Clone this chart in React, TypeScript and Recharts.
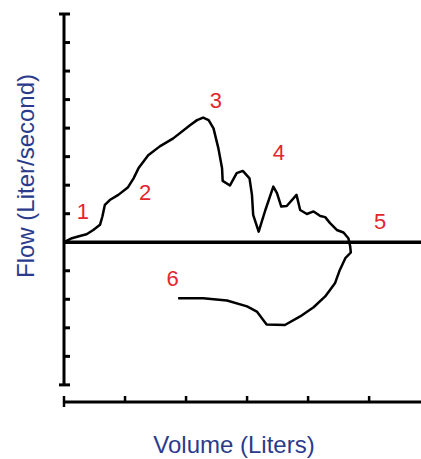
import * as React from 'react'
import {
  LineChart,
  Line,
  XAxis,
  YAxis,
  ReferenceLine,
  ReferenceDot,
} from 'recharts'

// flow-volume loop, traced in drawing order (volume in L, flow in L/s)
const volume = [
  0, 0.13, 0.26, 0.37, 0.48, 0.59, 0.63, 0.67, 0.75, 0.89, 1.05, 1.14, 1.22,
  1.38, 1.57, 1.79, 2.07, 2.18, 2.28, 2.37, 2.45, 2.53, 2.59, 2.6, 2.72, 2.83,
  2.93, 3.04, 3.08, 3.1, 3.19, 3.3, 3.43, 3.49, 3.56, 3.65, 3.81, 3.87, 3.98,
  4.09, 4.2, 4.28, 4.36, 4.47, 4.58, 4.66, 4.69, 4.7, 4.61, 4.52, 4.44, 4.28,
  4.09, 3.87, 3.62, 3.32, 3.16, 3.0, 2.67, 2.28, 1.87,
]
const flow = [
  0, 0.14, 0.22, 0.28, 0.43, 0.61, 0.91, 1.31, 1.48, 1.66, 1.93, 2.24, 2.59,
  3.05, 3.36, 3.64, 4.11, 4.28, 4.37, 4.28, 3.99, 3.29, 2.59, 2.15, 1.99, 2.42,
  2.5, 2.24, 1.66, 0.96, 0.37, 1.13, 1.95, 1.72, 1.25, 1.27, 1.66, 1.13, 0.99,
  1.08, 0.92, 0.88, 0.67, 0.43, 0.34, 0.14, -0.15, -0.36, -0.56, -0.97, -1.44,
  -1.9, -2.28, -2.6, -2.9, -2.88, -2.43, -2.25, -2.04, -1.96, -1.96,
]

const X_TICKS = [0, 1, 2, 3, 4, 5]
const Y_TICKS = [-5, -4, -3, -2, -1, 0, 1, 2, 3, 4, 5, 6, 7, 8]

// numbered phase markers
const markerText = ['1', '2', '3', '4', '5', '6']
const markerVolume = [0.31, 1.33, 2.49, 3.52, 5.18, 1.78]
const markerFlow = [1.09, 1.75, 4.98, 3.15, 0.74, -1.26]

const BLUE = '#2b3b8b'
const RED = '#e3262b'
const FONT = '"Liberation Sans", Arial, sans-serif'

const loop = volume.map((v, i) => ({ volume: v, flow: flow[i] }))

function YTick({ x, y, payload }: any) {
  const isEnd =
    payload.value === Y_TICKS[0] || payload.value === Y_TICKS[Y_TICKS.length - 1]
  return (
    <line
      x1={isEnd ? x - 5 : x}
      x2={x + 6}
      y1={y}
      y2={y}
      stroke='#000'
      strokeWidth={3}
    />
  )
}

function XTick({ x, y, payload }: any) {
  return (
    <line
      x1={x}
      x2={x}
      y1={y - 6}
      y2={payload.value === 0 ? y + 5 : y}
      stroke='#000'
      strokeWidth={2.5}
    />
  )
}

export default function App() {
  return (
    <div style={{ position: 'absolute', left: 0, top: 0, fontFamily: FONT }}>
      <LineChart
        width={421}
        height={459}
        data={loop}
        margin={{ top: 14, right: 0, left: 0, bottom: 0 }}
      >
        <XAxis
          dataKey='volume'
          type='number'
          domain={[0, 5.85]}
          ticks={X_TICKS}
          allowDataOverflow
          height={57}
          axisLine={{ stroke: '#000', strokeWidth: 3 }}
          tickLine={false}
          tickSize={0}
          tickMargin={0}
          tick={<XTick />}
          label={({ viewBox }: any) => (
            <text
              x={viewBox.x + 170}
              y={viewBox.y + 51}
              textAnchor='middle'
              fill={BLUE}
              fontSize={24}
              fontFamily={FONT}
            >
              Volume (Liters)
            </text>
          )}
        />
        <YAxis
          type='number'
          domain={[-5.6, 8]}
          ticks={Y_TICKS}
          allowDataOverflow
          width={64}
          axisLine={false}
          tickLine={false}
          tickSize={0}
          tickMargin={0}
          tick={<YTick />}
          label={() => (
            <text
              x={34}
              y={176}
              transform='rotate(-90 34 176)'
              textAnchor='middle'
              fill={BLUE}
              fontSize={24}
              fontFamily={FONT}
            >
              Flow (Liter/second)
            </text>
          )}
        />
        <ReferenceLine
          segment={[
            { x: 0, y: Y_TICKS[0] },
            { x: 0, y: Y_TICKS[Y_TICKS.length - 1] },
          ]}
          stroke='#000'
          strokeWidth={3}
        />
        <ReferenceLine y={0} stroke='#000' strokeWidth={3.5} />
        <Line
          dataKey='flow'
          type='linear'
          stroke='#000'
          strokeWidth={2.5}
          strokeLinejoin='round'
          dot={false}
          isAnimationActive={false}
        />
        {markerText.map((t, i) => (
          <ReferenceDot
            key={t}
            x={markerVolume[i]}
            y={markerFlow[i]}
            r={0}
            stroke='none'
            fill='none'
            label={{
              value: t,
              position: 'center',
              fill: RED,
              fontSize: 22,
              fontFamily: FONT,
            }}
          />
        ))}
      </LineChart>
    </div>
  )
}
